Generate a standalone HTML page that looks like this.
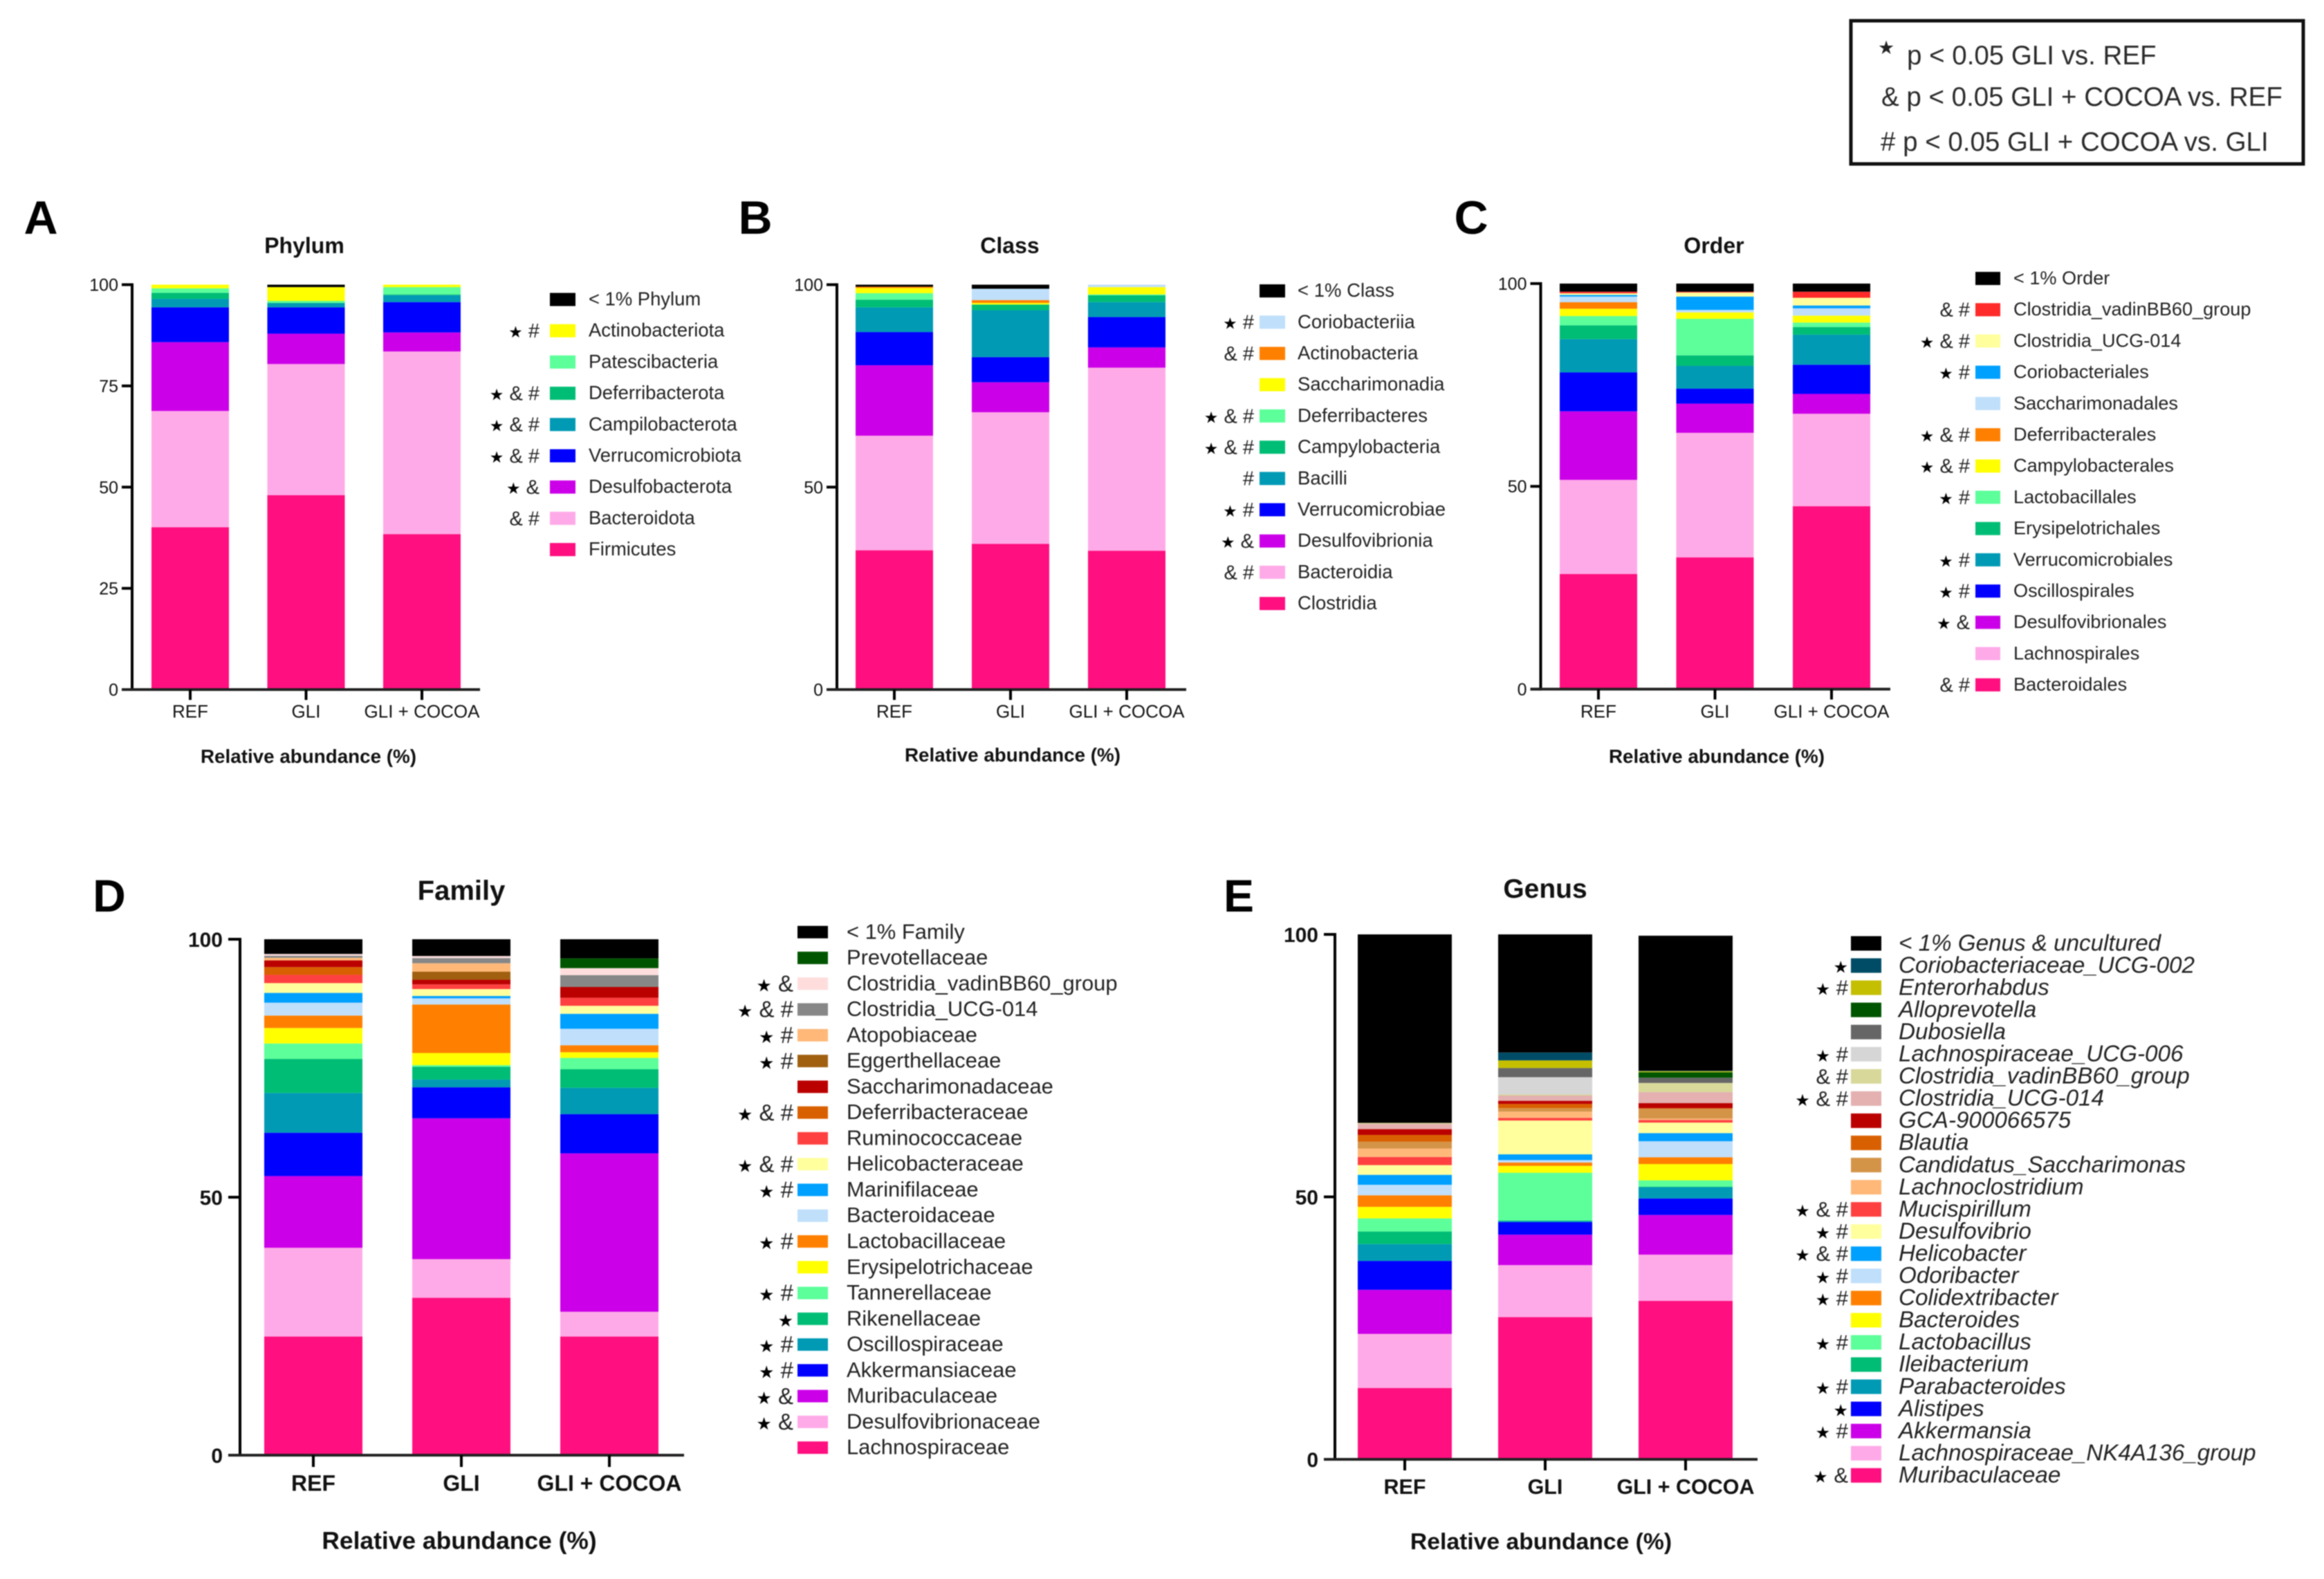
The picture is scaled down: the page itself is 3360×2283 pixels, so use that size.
<!DOCTYPE html>
<html lang="en">
<head>
<meta charset="utf-8">
<title>Relative abundance of gut microbiota by taxonomic level</title>
<style>
html,body{margin:0;padding:0;background:#fff;}
svg{display:block;filter:blur(.7px);font-family:"Liberation Sans","DejaVu Sans",sans-serif;}
</style>
</head>
<body>
<svg id="figure" xmlns="http://www.w3.org/2000/svg" width="3360" height="2283" viewBox="0 0 3360 2283">
  <rect x="0" y="0" width="3360" height="2283" fill="#fff"/>
  <g>
    <rect x="2676" y="30" width="654" height="207" fill="#fff" stroke="#111" stroke-width="5"/>
    <text x="2715" y="78" font-size="27" fill="#222" font-family="'DejaVu Sans',sans-serif">★</text>
    <text x="2757" y="93" font-size="38.5" fill="#2a2a2a">p &lt; 0.05 GLI vs. REF</text>
    <text x="2720" y="153" font-size="38.5" fill="#2a2a2a">&amp; p &lt; 0.05 GLI + COCOA vs. REF</text>
    <text x="2719" y="218" font-size="38.5" fill="#2a2a2a"># p &lt; 0.05 GLI + COCOA vs. GLI</text>
  </g>
</svg>
<script>
// ---------- shared categories ----------
const groups = ['REF', 'GLI', 'GLI + COCOA'];

// ---------- colours ----------
const PINK = '#ff0f7f', LPINK = '#ffaae8', PURPLE = '#cc00e8', BLUE = '#0000ff', TEAL = '#009ab5',
      GREEN = '#00bd75', MINT = '#5cff9a', YELLOW = '#ffff00', ORANGE = '#ff8000', LBLUE = '#bfdffb',
      SKY = '#00a0ff', PALE = '#ffff9e', RED = '#ff4040', DORANGE = '#d96000', DRED = '#bb0000',
      BROWN = '#a06010', PEACH = '#ffb878', GRAY = '#878787', BLUSH = '#ffdddd', DGREEN = '#005500',
      BLACK = '#000000';

// ---------- A: Phylum (all arrays run bottom of stack to top) ----------
const phylumNames = ['Firmicutes', 'Bacteroidota', 'Desulfobacterota', 'Verrucomicrobiota', 'Campilobacterota', 'Deferribacterota', 'Patescibacteria', 'Actinobacteriota', '< 1% Phylum'];
const phylumMarks = ['', '&#', '*&', '*&#', '*&#', '*&#', '', '*#', ''];
const phylumColors = [PINK, LPINK, PURPLE, BLUE, TEAL, GREEN, MINT, YELLOW, BLACK];
const phylumRef = [40.1, 28.7, 17, 8.6, 2.1, 1.5, 1.1, 0.9, 0];
const phylumGli = [48, 32.4, 7.5, 6.5, 1, 0.1, 0.5, 3.4, 0.6];
const phylumCocoa = [38.4, 45.1, 4.7, 7.5, 1.7, 0.2, 1.8, 0.6, 0];
const phylumTicks = [0, 25, 50, 75, 100];

// ---------- B: Class ----------
const classNames = ['Clostridia', 'Bacteroidia', 'Desulfovibrionia', 'Verrucomicrobiae', 'Bacilli', 'Campylobacteria', 'Deferribacteres', 'Saccharimonadia', 'Actinobacteria', 'Coriobacteriia', '< 1% Class'];
const classMarks = ['', '&#', '*&', '*#', '#', '*&#', '*&#', '', '&#', '*#', ''];
const classColors = [PINK, LPINK, PURPLE, BLUE, TEAL, GREEN, MINT, YELLOW, ORANGE, LBLUE, BLACK];
const classRef = [34.4, 28.3, 17.4, 8.2, 6.1, 1.9, 1.6, 1.3, 0.3, 0, 0.5];
const classGli = [36, 32.5, 7.4, 6.2, 11.6, 1.4, 0, 0.4, 0.7, 2.8, 1];
const classCocoa = [34.3, 45.2, 5, 7.5, 3.7, 1.7, 0.2, 1.8, 0, 0.6, 0];
const classTicks = [0, 50, 100];

// ---------- C: Order ----------
const orderNames = ['Bacteroidales', 'Lachnospirales', 'Desulfovibrionales', 'Oscillospirales', 'Verrucomicrobiales', 'Erysipelotrichales', 'Lactobacillales', 'Campylobacterales', 'Deferribacterales', 'Saccharimonadales', 'Coriobacteriales', 'Clostridia_UCG-014', 'Clostridia_vadinBB60_group', '< 1% Order'];
const orderMarks = ['&#', '', '*&', '*#', '*#', '', '*#', '*&#', '*&#', '', '*#', '*&#', '&#', ''];
const orderColors = [PINK, LPINK, PURPLE, BLUE, TEAL, GREEN, MINT, YELLOW, ORANGE, LBLUE, SKY, PALE, '#ff2a2a', BLACK];
const orderRef = [28.4, 23.2, 16.9, 9.6, 8.2, 3.4, 2.3, 1.8, 1.6, 1.4, 0.4, 0.4, 0.4, 2];
const orderGli = [32.5, 30.7, 7.2, 3.7, 5.6, 2.6, 9, 1.6, 0, 0.6, 3.3, 1, 0.2, 2];
const orderCocoa = [45.1, 22.8, 4.9, 7.2, 7.4, 1.9, 1.1, 1.7, 0, 1.8, 0.7, 1.9, 1.5, 2];
const orderTicks = [0, 50, 100];

// ---------- D: Family ----------
const familyNames = ['Lachnospiraceae', 'Desulfovibrionaceae', 'Muribaculaceae', 'Akkermansiaceae', 'Oscillospiraceae', 'Rikenellaceae', 'Tannerellaceae', 'Erysipelotrichaceae', 'Lactobacillaceae', 'Bacteroidaceae', 'Marinifilaceae', 'Helicobacteraceae', 'Ruminococcaceae', 'Deferribacteraceae', 'Saccharimonadaceae', 'Eggerthellaceae', 'Atopobiaceae', 'Clostridia_UCG-014', 'Clostridia_vadinBB60_group', 'Prevotellaceae', '< 1% Family'];
const familyMarks = ['', '*&', '*&', '*#', '*#', '*', '*#', '', '*#', '', '*#', '*&#', '', '*&#', '', '*#', '*#', '*&#', '*&', '', ''];
const familyColors = [PINK, LPINK, PURPLE, BLUE, TEAL, GREEN, MINT, YELLOW, ORANGE, LBLUE, SKY, PALE, RED, DORANGE, DRED, BROWN, PEACH, GRAY, BLUSH, DGREEN, BLACK];
const familyRef = [23, 17.2, 13.9, 8.4, 7.7, 6.6, 3, 3, 2.4, 2.5, 1.9, 1.9, 1.6, 1.5, 1.3, 0, 0.5, 0.4, 0.35, 0, 2.85];
const familyGli = [30.5, 7.5, 27.3, 6, 1.5, 2.5, 0.3, 2.35, 9.4, 1.2, 0.45, 1.35, 0.9, 0, 0.9, 1.55, 1.65, 1, 0.4, 0, 3.25];
const familyCocoa = [23, 4.8, 30.7, 7.6, 5.1, 3.6, 2.2, 1.1, 1.35, 3.2, 2.9, 1.55, 1.55, 0, 2.1, 0, 0, 2.3, 1.35, 1.9, 3.7];
const familyTicks = [0, 50, 100];

// ---------- E: Genus ----------
const genusNames = ['Muribaculaceae', 'Lachnospiraceae_NK4A136_group', 'Akkermansia', 'Alistipes', 'Parabacteroides', 'Ileibacterium', 'Lactobacillus', 'Bacteroides', 'Colidextribacter', 'Odoribacter', 'Helicobacter', 'Desulfovibrio', 'Mucispirillum', 'Lachnoclostridium', 'Candidatus_Saccharimonas', 'Blautia', 'GCA-900066575', 'Clostridia_UCG-014', 'Clostridia_vadinBB60_group', 'Lachnospiraceae_UCG-006', 'Dubosiella', 'Alloprevotella', 'Enterorhabdus', 'Coriobacteriaceae_UCG-002', '< 1% Genus & uncultured'];
const genusMarks = ['*&', '', '*#', '*', '*#', '', '*#', '', '*#', '*#', '*&#', '*#', '*&#', '', '', '', '', '*&#', '&#', '*#', '', '', '*#', '*', ''];
const genusColors = [PINK, LPINK, PURPLE, BLUE, TEAL, GREEN, MINT, YELLOW, ORANGE, LBLUE, SKY, PALE, RED, PEACH, '#d49448', DORANGE, DRED, '#e4b0b0', '#d8d89a', '#d6d6d6', '#666666', DGREEN, '#c4bf00', '#004c66', BLACK];
const genusRef = [13.6, 10.3, 8.4, 5.5, 3.2, 2.4, 2.5, 2.2, 2.2, 2, 1.9, 1.85, 1.55, 1.6, 1.3, 1.3, 1.1, 1, 0.2, 0, 0, 0, 0, 0, 35.9];
const genusGli = [27.1, 9.9, 5.8, 2.4, 0.2, 0.1, 9.1, 1.3, 0.65, 0.45, 1.1, 6.45, 0.5, 1.2, 0.65, 0.8, 0.6, 1, 0.2, 3.3, 1.75, 0, 1.45, 1.5, 22.5];
const genusCocoa = [30.2, 8.8, 7.55, 3.15, 2.15, 0.1, 1.2, 3.1, 1.3, 3.05, 1.55, 2, 0.5, 0.25, 1.9, 0.1, 0.95, 2.1, 1.75, 0, 1, 1.05, 0.2, 0.1, 25.7];
const genusTicks = [0, 50, 100];

// ---------- drawing ----------
const SVG_NS = 'http://www.w3.org/2000/svg';
const root = document.getElementById('figure');

function make(parent, tag, attrs) {
  const el = document.createElementNS(SVG_NS, tag);
  for (const k in attrs) el.setAttribute(k, attrs[k]);
  parent.appendChild(el);
  return el;
}

function slug(s) {
  return String(s).toLowerCase().replace(/[^a-z0-9]+/g, '-').replace(/^-|-$/g, '');
}

function linearY(y0, y100) {
  return function (v) { return y0 - v * (y0 - y100) / 100; };
}

function bandX(first, step) {
  return function (i) { return first + i * step; };
}

function drawMarks(g, marks, x, cy, fs, starFs) {
  if (!marks) return;
  const t = make(g, 'text', {x: x, y: cy + fs * 0.34, 'font-size': fs, fill: '#222', 'text-anchor': 'end'});
  
  
  const parts = marks.split('');
  parts.forEach(function (m, i) {
    const span = make(t, 'tspan', {});
    if (m === '*') {
      span.setAttribute('font-size', starFs);
      span.setAttribute('font-family', "'DejaVu Sans',sans-serif");
      span.setAttribute('fill', '#000');
      span.textContent = '★';
    } else {
      span.textContent = m;
    }
    if (i < parts.length - 1) t.appendChild(document.createTextNode(' '));
  });
}

function drawPanel(p) {
  const g = make(root, 'g', {});
  
  

  const y = linearY(p.y0, p.y100);
  const x = bandX(p.firstX, p.stepX);

  const letter = make(g, 'text', {x: p.letterX, y: p.letterY, 'font-size': p.letterFs, 'font-weight': 'bold', fill: '#000', 'text-anchor': 'middle'});
  
  
  letter.textContent = p.letter;

  const title = make(g, 'text', {x: p.titleX, y: p.titleY, 'font-size': p.titleFs, 'font-weight': 'bold', fill: '#111', 'text-anchor': 'middle'});
  
  
  title.textContent = p.title;

  // bars
  p.values.forEach(function (vals, gi) {
    const cx = x(gi);
    let cum = 0;
    vals.forEach(function (v, si) {
      const top = y(cum + v);
      const h = y(cum) - top;
      const r = make(g, 'rect', {x: cx - p.barW / 2, y: top, width: p.barW, height: h, fill: p.colors[si]});
      
      
      cum += v;
    });
  });

  // y axis
  const yAxis = make(g, 'line', {x1: p.axisX, x2: p.axisX, y1: y(100) - 2, y2: y(0) + 2, stroke: '#000', 'stroke-width': p.axisW});
  
  
  p.ticks.forEach(function (t) {
    const tick = make(g, 'line', {x1: p.axisX - p.tickLen, x2: p.axisX, y1: y(t), y2: y(t), stroke: '#000', 'stroke-width': p.axisW});
    
    
    const lbl = make(g, 'text', {x: p.axisX - p.tickLen - p.tickGap, y: y(t) + p.tickFs * 0.36, 'font-size': p.tickFs, 'font-weight': p.tickWeight, fill: '#111', 'text-anchor': 'end'});
    
    
    lbl.textContent = String(t);
  });

  // x axis
  const xAxis = make(g, 'line', {x1: p.axisX - p.tickLen, x2: p.xEnd, y1: y(0), y2: y(0), stroke: '#222', 'stroke-width': p.axisW});
  
  
  groups.forEach(function (name, i) {
    const tick = make(g, 'line', {x1: x(i), x2: x(i), y1: y(0), y2: y(0) + p.tickLen, stroke: '#000', 'stroke-width': p.axisW});
    
    
    const lbl = make(g, 'text', {x: x(i), y: p.xLabelY + p.xFs * 0.36, 'font-size': p.xFs, 'font-weight': p.tickWeight, fill: '#111', 'text-anchor': 'middle'});
    
    
    lbl.textContent = name;
  });

  const axisTitle = make(g, 'text', {x: p.axisTitleX, y: p.axisTitleY + p.axisTitleFs * 0.36, 'font-size': p.axisTitleFs, 'font-weight': 'bold', fill: '#111', 'text-anchor': 'middle'});
  
  
  axisTitle.textContent = 'Relative abundance (%)';

  // legend (top row = top of stack)
  const n = p.names.length;
  p.names.forEach(function (name, si) {
    const row = n - 1 - si;
    const cy = p.legTop + row * p.legStep;
    const entry = make(g, 'g', {});
    
    
    const sw = make(entry, 'rect', {x: p.swX, y: cy - p.swH / 2, width: p.swW, height: p.swH, fill: p.colors[si]});
    
    
    const lbl = make(entry, 'text', {x: p.legTextX, y: cy + p.legFs * 0.31, 'font-size': p.legFs, fill: '#222'});
    if (p.italic) lbl.setAttribute('font-style', 'italic');
    
    
    lbl.textContent = name;
    drawMarks(entry, p.marks[si], p.marksX, cy, p.marksFs, p.starFs);
  });
}

drawPanel({
  letter: 'A', letterX: 59, letterY: 338, letterFs: 68,
  title: 'Phylum', titleX: 440, titleY: 366, titleFs: 32,
  names: phylumNames, marks: phylumMarks, colors: phylumColors,
  values: [phylumRef, phylumGli, phylumCocoa], ticks: phylumTicks,
  y0: 997, y100: 411.6, firstX: 275, stepX: 167.5, barW: 112,
  axisX: 191, axisW: 4, tickLen: 15, tickGap: 5, xEnd: 694, tickFs: 25, tickWeight: 'normal',
  xLabelY: 1028, xFs: 26, axisTitleX: 446, axisTitleY: 1093, axisTitleFs: 27.8,
  legTop: 433, legStep: 45.2, swX: 795, swW: 37, swH: 19, legTextX: 851, legFs: 27.4, marksX: 780, marksFs: 29, starFs: 23
});

drawPanel({
  letter: 'B', letterX: 1092, letterY: 338, letterFs: 68,
  title: 'Class', titleX: 1460, titleY: 366, titleFs: 32,
  names: classNames, marks: classMarks, colors: classColors,
  values: [classRef, classGli, classCocoa], ticks: classTicks,
  y0: 997, y100: 411.6, firstX: 1293, stepX: 168, barW: 112,
  axisX: 1210, axisW: 4, tickLen: 15, tickGap: 5, xEnd: 1715, tickFs: 25, tickWeight: 'normal',
  xLabelY: 1028, xFs: 26, axisTitleX: 1464, axisTitleY: 1091, axisTitleFs: 27.8,
  legTop: 420.6, legStep: 45.2, swX: 1821, swW: 37, swH: 19, legTextX: 1876, legFs: 27.5, marksX: 1813, marksFs: 29, starFs: 23
});

drawPanel({
  letter: 'C', letterX: 2127, letterY: 338, letterFs: 68,
  title: 'Order', titleX: 2478, titleY: 366, titleFs: 32,
  names: orderNames, marks: orderMarks, colors: orderColors,
  values: [orderRef, orderGli, orderCocoa], ticks: orderTicks,
  y0: 996.4, y100: 410, firstX: 2311, stepX: 168.5, barW: 112,
  axisX: 2227.5, axisW: 4, tickLen: 15, tickGap: 5, xEnd: 2733, tickFs: 25, tickWeight: 'normal',
  xLabelY: 1028, xFs: 26, axisTitleX: 2482, axisTitleY: 1093, axisTitleFs: 27.8,
  legTop: 402.6, legStep: 45.2, swX: 2856, swW: 36, swH: 19, legTextX: 2911, legFs: 27.1, marksX: 2848, marksFs: 29, starFs: 23
});

drawPanel({
  letter: 'D', letterX: 158, letterY: 1318, letterFs: 66,
  title: 'Family', titleX: 667, titleY: 1301, titleFs: 40,
  names: familyNames, marks: familyMarks, colors: familyColors,
  values: [familyRef, familyGli, familyCocoa], ticks: familyTicks,
  y0: 2104, y100: 1358, firstX: 453, stepX: 214, barW: 142,
  axisX: 347, axisW: 4, tickLen: 17, tickGap: 8, xEnd: 989, tickFs: 30, tickWeight: 'bold',
  xLabelY: 2144, xFs: 32, axisTitleX: 664, axisTitleY: 2227, axisTitleFs: 35.4,
  legTop: 1347.7, legStep: 37.27, swX: 1153, swW: 44, swH: 18, legTextX: 1224, legFs: 30.9, marksX: 1147, marksFs: 33, starFs: 25
});

drawPanel({
  letter: 'E', letterX: 1791, letterY: 1318, letterFs: 66,
  title: 'Genus', titleX: 2234, titleY: 1298, titleFs: 39,
  names: genusNames, marks: genusMarks, colors: genusColors,
  values: [genusRef, genusGli, genusCocoa], ticks: genusTicks,
  y0: 2110, y100: 1351, firstX: 2031, stepX: 203, barW: 136,
  axisX: 1930, axisW: 4, tickLen: 16, tickGap: 8, xEnd: 2541, tickFs: 30, tickWeight: 'bold',
  xLabelY: 2149, xFs: 30.5, axisTitleX: 2228, axisTitleY: 2228, axisTitleFs: 33.7,
  legTop: 1364, legStep: 32.05, swX: 2676, swW: 44, swH: 21, legTextX: 2745, legFs: 33.2, marksX: 2672, marksFs: 31, starFs: 24, italic: true
});
</script>
</body>
</html>
